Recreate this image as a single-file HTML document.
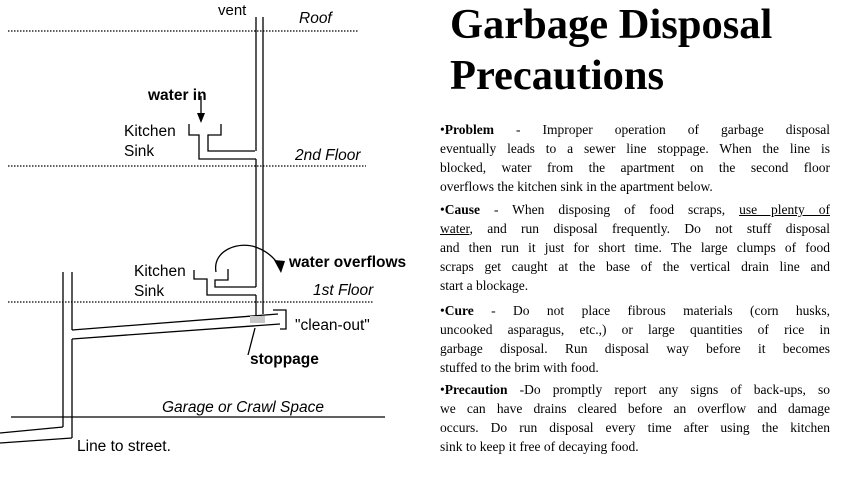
<!DOCTYPE html>
<html><head><style>
html,body{margin:0;padding:0;background:#fff;}
body{width:845px;height:479px;position:relative;overflow:hidden;}
.t{position:absolute;font-family:"Liberation Serif",serif;}
.title{left:450px;font-size:42.5px;font-weight:bold;line-height:42px;white-space:nowrap;}
.p{position:absolute;left:440px;width:390px;font-family:"Liberation Serif",serif;font-size:13.5px;line-height:19px;}
.p div{text-align:justify;text-align-last:justify;white-space:nowrap;height:19px;}
.p div.l{text-align-last:left;}
</style></head><body>
<svg width="845" height="479" style="position:absolute;left:0;top:0" font-family="Liberation Sans, sans-serif">
<g stroke="#000" stroke-width="1.3" fill="none">
<line x1="8" y1="31" x2="358" y2="31" stroke-dasharray="1.5,1.5"/>
<line x1="8" y1="166" x2="366" y2="166" stroke-dasharray="1.5,1.5"/>
<line x1="8" y1="302" x2="373" y2="302" stroke-dasharray="1.5,1.5"/>
<line x1="11" y1="417" x2="385" y2="417"/>
<line x1="256" y1="17" x2="256" y2="151"/>
<line x1="256" y1="159" x2="256" y2="287"/>
<line x1="256" y1="295" x2="256" y2="316"/>
<line x1="263" y1="17" x2="263" y2="314"/>
<polyline points="189,124 189,135 199,135 199,159 256,159"/>
<polyline points="221,124 221,135 208,135 208,151 255,151"/>
<polyline points="194,270 194,279 207,279 207,295 256,295"/>
<polyline points="228,269 228,280 215,280 215,287 256,287"/>
<line x1="72" y1="330" x2="278" y2="314"/>
<line x1="72" y1="339" x2="280" y2="324"/>
<polyline points="273,310 286,310 286,329 280,329"/>
<line x1="63" y1="272" x2="63" y2="427"/>
<line x1="72" y1="272" x2="72" y2="330"/>
<line x1="72" y1="339" x2="72" y2="438"/>
<line x1="0" y1="433" x2="63" y2="427"/>
<line x1="0" y1="443" x2="72" y2="438"/>
<line x1="201" y1="96" x2="201" y2="118"/>
<path d="M216,272 C212,250 240,240 258,248 C268,252 274,258 278,264"/>
<line x1="248" y1="355" x2="255" y2="328"/>
</g>
<polygon points="197,113 205,113 201,123" fill="#000"/>
<polygon points="274,260 285,261 281,273" fill="#000"/>
<rect x="250" y="316" width="15" height="7" fill="#c8c8c8"/>
<g font-size="15.5" fill="#000">
<text x="218" y="15" font-size="15">vent</text>
<text x="299" y="23" font-style="italic">Roof</text>
<text x="148" y="100" font-weight="bold">water in</text>
<text x="124" y="136">Kitchen</text>
<text x="124" y="156">Sink</text>
<text x="295" y="160" font-style="italic">2nd Floor</text>
<text x="289" y="267" font-weight="bold">water overflows</text>
<text x="134" y="276">Kitchen</text>
<text x="134" y="296">Sink</text>
<text x="313" y="295" font-style="italic">1st Floor</text>
<text x="295" y="330">"clean-out"</text>
<text x="250" y="364" font-weight="bold">stoppage</text>
<text x="162" y="412" font-style="italic">Garage or Crawl Space</text>
<text x="77" y="451">Line to street.</text>
</g>
</svg>
<div class="t title" style="top:4px">Garbage Disposal</div>
<div class="t title" style="top:55px">Precautions</div>
<div class="p" style="top:120px">
<div>•<b>Problem</b> - Improper operation of garbage disposal</div>
<div>eventually leads to a sewer line stoppage. When the line is</div>
<div>blocked, water from the apartment on the second floor</div>
<div class="l">overflows the kitchen sink in the apartment below.</div>
</div>
<div class="p" style="top:200px">
<div>•<b>Cause</b> - When disposing of food scraps, <u>use plenty of</u></div>
<div><u>water</u>, and run disposal frequently. Do not stuff disposal</div>
<div>and then run it just for short time. The large clumps of food</div>
<div>scraps get caught at the base of the vertical drain line and</div>
<div class="l">start a blockage.</div>
</div>
<div class="p" style="top:301px">
<div>•<b>Cure</b> - Do not place fibrous materials (corn husks,</div>
<div>uncooked asparagus, etc.,) or large quantities of rice in</div>
<div>garbage disposal. Run disposal way before it becomes</div>
<div class="l">stuffed to the brim with food.</div>
</div>
<div class="p" style="top:380px">
<div>•<b>Precaution</b> -Do promptly report any signs of back-ups, so</div>
<div>we can have drains cleared before an overflow and damage</div>
<div>occurs. Do run disposal every time after using the kitchen</div>
<div class="l">sink to keep it free of decaying food.</div>
</div>
</body></html>
